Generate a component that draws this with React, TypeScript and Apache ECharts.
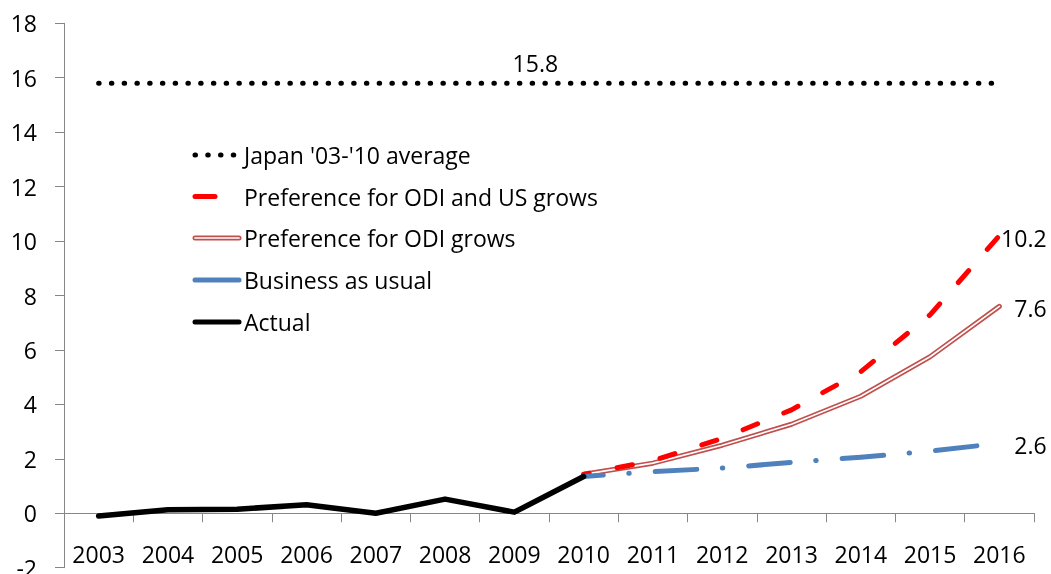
import React, { useEffect, useRef } from "react";
import * as echarts from "echarts";

const years = ["2003", "2004", "2005", "2006", "2007", "2008", "2009", "2010", "2011", "2012", "2013", "2014", "2015", "2016"];
const actual = [-0.1, 0.13, 0.15, 0.31, 0.0, 0.52, 0.04, 1.35, null, null, null, null, null, null];
const japanAvg = [15.8, 15.8, 15.8, 15.8, 15.8, 15.8, 15.8, 15.8, 15.8, 15.8, 15.8, 15.8, 15.8, 15.8];
const odiUs = [null, null, null, null, null, null, null, 1.43, 1.93, 2.75, 3.8, 5.2, 7.29, 10.2];
const odi = [null, null, null, null, null, null, null, 1.43, 1.84, 2.5, 3.27, 4.3, 5.75, 7.6];
const bau = [null, null, null, null, null, null, null, 1.35, 1.53, 1.66, 1.87, 2.06, 2.28, 2.57];

const legendNames = [
  "Japan '03-'10 average",
  "Preference for ODI and US grows",
  "Preference for ODI grows",
  "Business as usual",
  "Actual",
];

const FONT = "'Open Sans', 'Noto Sans', sans-serif";
const RED = "#FF0000";
const DRED = "#C0504D";
const BLUE = "#4F81BD";
const AXIS = "#868686";

const fmt1 = (p: any) => Number(p.value).toFixed(1);

function endLabel(arr: (number | null)[]) {
  const last = arr.length - 1;
  return arr.map((v, i) =>
    i === last
      ? {
          value: v,
          label: {
            show: true,
            position: "right",
            align: "right",
            distance: 47,
            offset: [0, 2],
            fontSize: 23,
            fontFamily: FONT,
            color: "#000",
            formatter: fmt1,
          },
        }
      : v
  );
}

const hiddenSymbol = {
  symbol: "circle",
  symbolSize: 0.5,
  showSymbol: true,
  showAllSymbol: true,
  itemStyle: { color: "rgba(0,0,0,0)", borderWidth: 0 },
};

export default function App() {
  const ref = useRef<HTMLDivElement>(null);
  useEffect(() => {
    const chart = echarts.init(ref.current!, null, { renderer: "svg" });
    const lx1 = 195;
    const lx2 = 239;
    const tx = 244;
    const rows = [155, 196.5, 238, 280, 322];
    const legendGraphics: any[] = [
      { type: "line", shape: { x1: lx1, y1: rows[0], x2: 234, y2: rows[0] }, style: { stroke: "#000", lineWidth: 5, lineDash: [0.5, 12.25], lineCap: "round" } },
      { type: "line", shape: { x1: lx1, y1: rows[1], x2: 215, y2: rows[1] }, style: { stroke: RED, lineWidth: 5, lineCap: "round" } },
      { type: "line", shape: { x1: lx1, y1: rows[2], x2: lx2, y2: rows[2] }, style: { stroke: DRED, lineWidth: 5, lineCap: "round" } },
      { type: "line", shape: { x1: lx1, y1: rows[2], x2: lx2, y2: rows[2] }, style: { stroke: "#fff", lineWidth: 1.7, lineCap: "round" } },
      { type: "line", shape: { x1: lx1, y1: rows[3], x2: lx2, y2: rows[3] }, style: { stroke: BLUE, lineWidth: 5, lineCap: "round" } },
      { type: "line", shape: { x1: lx1, y1: rows[4], x2: lx2, y2: rows[4] }, style: { stroke: "#000", lineWidth: 5, lineCap: "round" } },
      ...legendNames.map((n, i) => ({
        type: "text",
        x: tx,
        y: rows[i],
        style: { text: n, fontSize: 23, fontFamily: FONT, fill: "#000", align: "left", verticalAlign: "middle" },
      })),
    ];
    chart.setOption({
      animation: false,
      grid: { left: 64, right: 17, top: 23.3, bottom: 6.3, containLabel: false, outerBoundsMode: "none" },
      xAxis: {
        type: "category",
        data: years,
        boundaryGap: true,
        axisLine: { show: true, onZero: true, lineStyle: { color: AXIS, width: 1 } },
        axisTick: { show: true, length: 9, lineStyle: { color: AXIS } },
        axisLabel: { fontSize: 23, fontFamily: FONT, color: "#000", margin: -25 },
        splitLine: { show: false },
      },
      yAxis: {
        type: "value",
        min: -2,
        max: 18,
        interval: 2,
        axisLine: { show: true, lineStyle: { color: AXIS, width: 1 } },
        axisTick: { show: true, length: 9, lineStyle: { color: AXIS } },
        axisLabel: { fontSize: 23, fontFamily: FONT, color: "#000", margin: 27 },
        splitLine: { show: false },
      },
      graphic: legendGraphics,
      series: [
        {
          name: legendNames[0],
          type: "line",
          data: japanAvg.map((v, i) =>
            i === 6
              ? { value: v, label: { show: true, position: "top", distance: 8, offset: [21, 0], fontSize: 23, fontFamily: FONT, color: "#000", formatter: fmt1 } }
              : v
          ),
          ...hiddenSymbol,
          lineStyle: { color: "#000", width: 5, type: [0.5, 12.25], cap: "round" },
          z: 2,
        },
        {
          name: legendNames[2],
          type: "line",
          data: endLabel(odi),
          ...hiddenSymbol,
          lineStyle: { color: DRED, width: 5, cap: "round", join: "round" },
          z: 3,
        },
        {
          name: legendNames[2] + " inner",
          type: "line",
          data: odi,
          symbol: "none",
          silent: true,
          lineStyle: { color: "#fff", width: 1.7, cap: "round", join: "round" },
          z: 4,
        },
        {
          name: legendNames[1],
          type: "line",
          data: endLabel(odiUs),
          ...hiddenSymbol,
          lineStyle: { color: RED, width: 5, type: [15.7, 28.3], dashOffset: 10, cap: "round", join: "round" },
          z: 5,
        },
        {
          name: legendNames[3],
          type: "line",
          data: endLabel(bau),
          ...hiddenSymbol,
          lineStyle: { color: BLUE, width: 5, type: [41.7, 25.5, 0.5, 26], dashOffset: 22.2, cap: "round", join: "round" },
          z: 6,
        },
        {
          name: legendNames[4],
          type: "line",
          data: actual,
          symbol: "none",
          lineStyle: { color: "#000", width: 5.5, cap: "round", join: "round" },
          z: 7,
        },
      ],
    });
    return () => chart.dispose();
  }, []);
  return <div ref={ref} style={{ position: "fixed", left: 0, top: 0, width: 1051, height: 574 }} />;
}
